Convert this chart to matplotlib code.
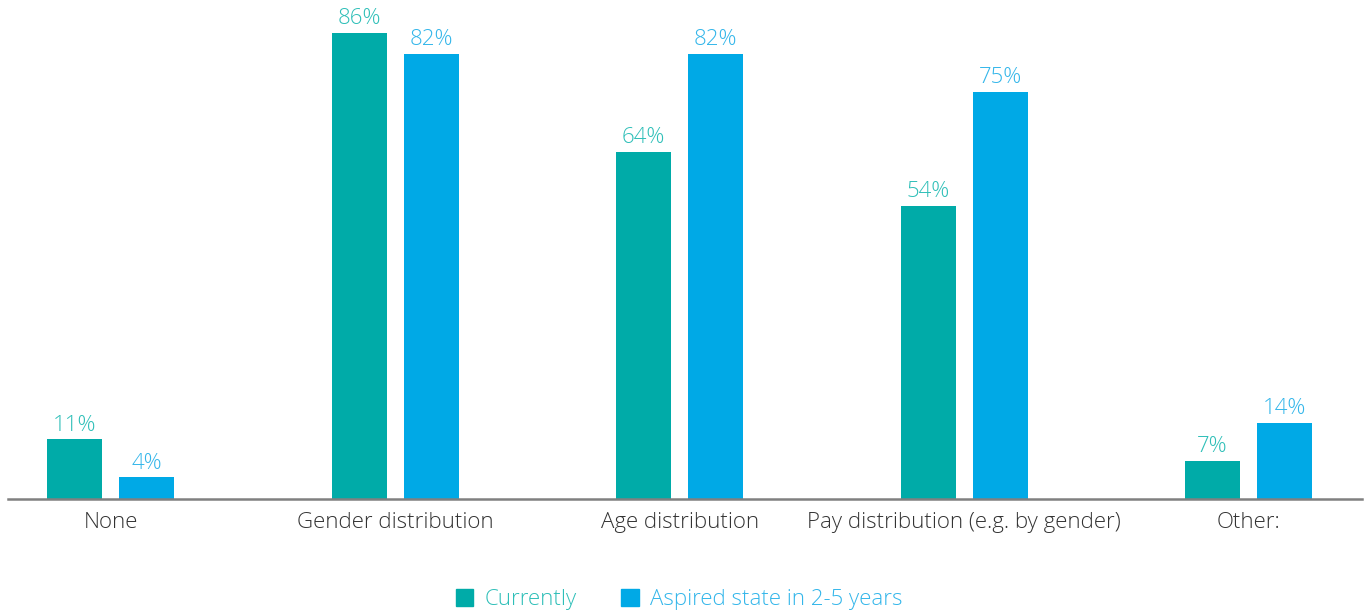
import numpy as np
import matplotlib
matplotlib.use("Agg")
import matplotlib.pyplot as plt
from matplotlib.patches import Patch

plt.rcParams["font.family"] = ["Open Sans", "DejaVu Sans"]

categories = ["None", "Gender distribution", "Age distribution",
              "Pay distribution (e.g. by gender)", "Other:"]
currently = [11, 86, 64, 54, 7]
aspired = [4, 82, 82, 75, 14]
series_names = ["Currently", "Aspired state in 2-5 years"]

TEAL = "#00ABA8"
BLUE = "#00A9E6"
TEAL_TXT = "#2EBFB8"
BLUE_TXT = "#33B6EA"

fig = plt.figure(figsize=(13.72, 6.14), dpi=100)
ax = fig.add_axes([0.006, 0.187, 0.987, 0.813])

x = np.arange(len(categories))
w = 0.193
off = 0.1265
b1 = ax.bar(x - off, currently, w, color=TEAL, zorder=2)
b2 = ax.bar(x + off, aspired, w, color=BLUE, zorder=2)

for bars, vals, col in ((b1, currently, TEAL_TXT), (b2, aspired, BLUE_TXT)):
    for r, v in zip(bars, vals):
        ax.text(r.get_x() + r.get_width() / 2, v + 0.7, f"{v}%",
                ha="center", va="bottom", fontsize=16, color=col,
                fontweight="light")

ax.set_xlim(-0.36, 4.40)
ax.set_ylim(0, 92)
ax.set_xticks(x)
ax.set_xticklabels(categories, fontsize=16, color="#333333", fontweight="light")
ax.tick_params(axis="x", length=0, pad=9)
ax.set_yticks([])
for s in ("top", "right", "left"):
    ax.spines[s].set_visible(False)
ax.spines["bottom"].set_color("#808080")
ax.spines["bottom"].set_linewidth(1.8)
ax.spines["bottom"].set_zorder(3)

handles = [Patch(color=TEAL), Patch(color=BLUE)]
leg = fig.legend(handles, series_names, loc="center", bbox_to_anchor=(0.495, 0.023),
                 ncol=2, frameon=False, fontsize=16, handlelength=0.8,
                 handleheight=0.8, handletextpad=0.5, columnspacing=2.0)
for t, c in zip(leg.get_texts(), (TEAL_TXT, BLUE_TXT)):
    t.set_color(c)
    t.set_fontweight("light")

fig.savefig("out.png", dpi=100)
